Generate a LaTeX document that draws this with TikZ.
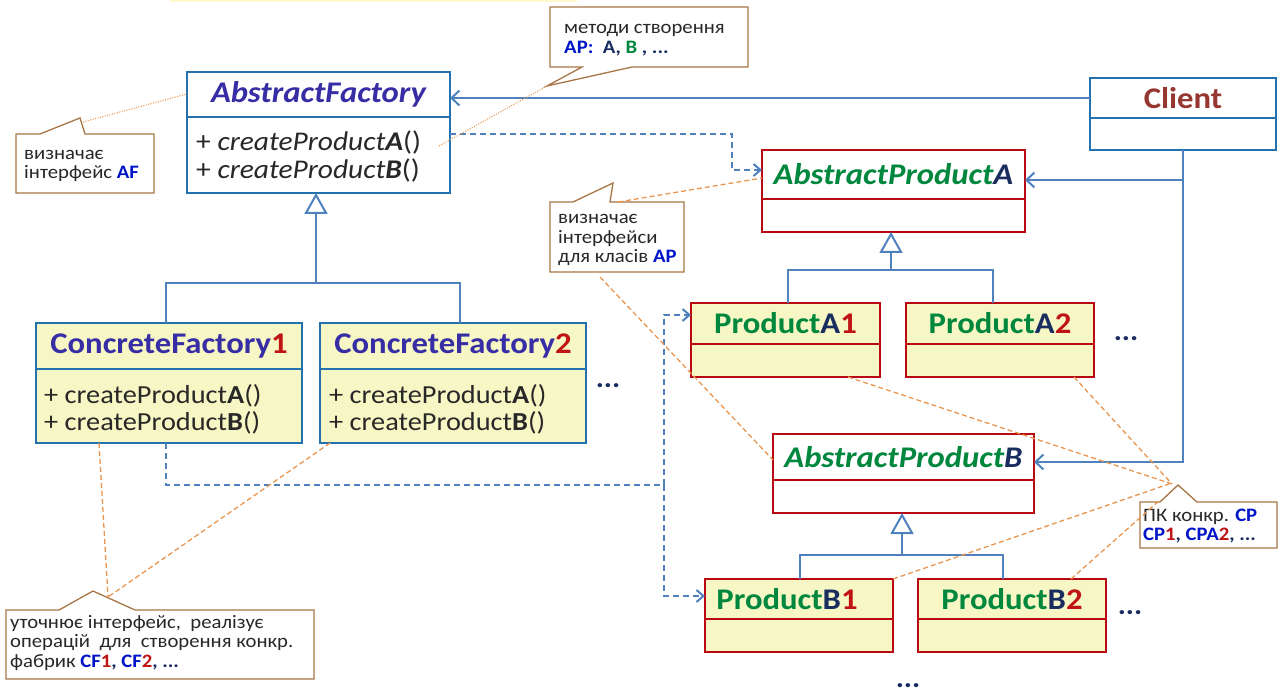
\documentclass[tikz,border=0pt]{standalone}
\usepackage{fontspec}
\setmainfont[FakeStretch=1.09]{Carlito}
\usetikzlibrary{arrows.meta}
\definecolor{cbord}{RGB}{36,113,176}
\definecolor{cline}{RGB}{79,129,189}
\definecolor{cred}{RGB}{185,10,20}
\definecolor{cind}{RGB}{55,45,165}
\definecolor{cgreen}{RGB}{0,135,62}
\definecolor{cnavy}{RGB}{25,45,95}
\definecolor{cdig}{RGB}{192,20,20}
\definecolor{cclient}{RGB}{150,55,50}
\definecolor{cfill}{RGB}{247,247,197}
\definecolor{cbrown}{RGB}{168,118,70}
\definecolor{corange}{RGB}{232,150,80}
\definecolor{cblue}{RGB}{0,20,200}
\definecolor{ctext}{RGB}{40,40,40}
\definecolor{ctop}{RGB}{255,250,205}
\begin{document}
\begin{tikzpicture}[x=1pt,y=-1pt,
  bbox/.style={draw=cbord, line width=2.6pt, fill=white, anchor=north west, inner sep=0pt, outer sep=0pt},
  rbox/.style={bbox, draw=cred},
  yel/.style={fill=cfill},
  ttl/.style={font=\fontsize{30}{34}\selectfont\bfseries},
  meth/.style={anchor=west, align=left, inner sep=0pt, text=ctext},
  assoc/.style={draw=cline, line width=2pt, -{Straight Barb[length=8pt,width=15pt]}},
  dep/.style={draw=cline, line width=2pt, dash pattern=on 6pt off 4pt, -{Straight Barb[length=7pt,width=12pt]}},
  depl/.style={draw=cline, line width=2pt, dash pattern=on 6pt off 4pt},
  gen/.style={draw=cline, line width=2pt},
  inh/.style={draw=cline, line width=2pt, -{Triangle[open, length=21pt, width=23pt, fill=white]}},
  note/.style={draw=cbrown, line width=1.3pt, fill=white},
  ntxt/.style={anchor=west, align=left, inner sep=0pt, text=ctext, font=\fontsize{19}{19.5}\selectfont},
  nline/.style={draw=corange, line width=1.3pt, dash pattern=on 5pt off 3pt},
  ndot/.style={draw=corange, line width=1.1pt, dash pattern=on 1pt off 1.5pt},
  dots/.style={text=cnavy, font=\fontsize{28}{30}\selectfont\bfseries, inner sep=0pt}
]
\useasboundingbox (0,0) rectangle (1278,695);
\fill[ctop] (170,0) rectangle (577,2.5);

% ---------- classes ----------
\node[bbox, minimum width=263pt, minimum height=45pt, ttl, text=cind] (af) at (187,72) {\itshape AbstractFactory};
\node[bbox, minimum width=263pt, minimum height=76pt] (afb) at (187,117) {};
\node[meth, font=\fontsize{27}{28}\selectfont] (afm) at (196,156) {+ \textit{createProduct\textbf{A}}()\\+ \textit{createProduct\textbf{B}}()};

\node[bbox, minimum width=186pt, minimum height=40pt, ttl, text=cclient] (client) at (1090,78) {Client};
\node[bbox, minimum width=186pt, minimum height=32pt] (clientb) at (1090,118) {};

\node[rbox, minimum width=263pt, minimum height=49pt, ttl, text=cgreen] (apa) at (762,150) {\itshape AbstractProduct\textcolor{cnavy}{A}};
\node[rbox, minimum width=263pt, minimum height=33pt] (apab) at (762,199) {};

\node[rbox, yel, minimum width=189pt, minimum height=41pt, ttl, text=cgreen] (pa1) at (691,303) {Product\textcolor{cnavy}{A}\textcolor{cdig}{1}};
\node[rbox, yel, minimum width=189pt, minimum height=33pt] (pa1b) at (691,344) {};
\node[rbox, yel, minimum width=188pt, minimum height=41pt, ttl, text=cgreen] (pa2) at (906,303) {Product\textcolor{cnavy}{A}\textcolor{cdig}{2}};
\node[rbox, yel, minimum width=188pt, minimum height=33pt] (pa2b) at (906,344) {};

\node[rbox, minimum width=261pt, minimum height=46pt, ttl, text=cgreen] (apb) at (773,434) {\itshape AbstractProduct\textcolor{cnavy}{B}};
\node[rbox, minimum width=261pt, minimum height=33pt] (apbb) at (773,480) {};

\node[rbox, yel, minimum width=188pt, minimum height=40pt, ttl, text=cgreen] (pb1) at (705,579) {Product\textcolor{cnavy}{B}\textcolor{cdig}{1}\hspace*{24pt}};
\node[rbox, yel, minimum width=188pt, minimum height=33pt] (pb1b) at (705,619) {};
\node[rbox, yel, minimum width=188pt, minimum height=40pt, ttl, text=cgreen] (pb2) at (918,579) {Product\textcolor{cnavy}{B}\textcolor{cdig}{2}};
\node[rbox, yel, minimum width=188pt, minimum height=33pt] (pb2b) at (918,619) {};

\node[bbox, yel, minimum width=266pt, minimum height=46pt, ttl, text=cind] (cf1) at (36,323) {ConcreteFactory\textcolor{cdig}{1}};
\node[bbox, yel, minimum width=266pt, minimum height=74pt] (cf1b) at (36,369) {};
\node[meth, font=\fontsize{26}{27}\selectfont] (cf1m) at (44,409) {+ createProduct\textbf{A}()\\+ createProduct\textbf{B}()};
\node[bbox, yel, minimum width=266pt, minimum height=46pt, ttl, text=cind] (cf2) at (320,323) {ConcreteFactory\textcolor{cdig}{2}};
\node[bbox, yel, minimum width=266pt, minimum height=74pt] (cf2b) at (320,369) {};
\node[meth, font=\fontsize{26}{27}\selectfont] (cf2m) at (329,409) {+ createProduct\textbf{A}()\\+ createProduct\textbf{B}()};

\node[dots] (d1) at (608,386) {...};
\node[dots] (d2) at (1126,339) {...};
\node[dots] (d3) at (1130,613) {...};
\node[dots] (d4) at (908,686) {...};

% ---------- connectors ----------
\draw[assoc] (client.west) -- (client.west -| af.east);
\draw[dep] (afb.east |- 0,134) -| (732,170) -- (apa.west |- 0,170);
\draw[gen] (clientb.south) -- (clientb.south |- 0,180);
\draw[assoc] (clientb.south |- 0,180) -- (apa.east |- 0,180);
\draw[assoc] (clientb.south |- 0,180) |- (apb.east |- 0,462);

\draw[gen] (cf1.north -| 166,0) |- (460,283) -- (cf2.north -| 460,0);
\draw[inh] (316,283) -- (afb.south -| 316,0);

\draw[gen] (pa1.north -| 788,0) |- (993,270) -- (pa2.north -| 993,0);
\draw[inh] (891,270) -- (apab.south -| 891,0);

\draw[gen] (pb1.north -| 800,0) |- (1003,555) -- (pb2.north -| 1003,0);
\draw[inh] (902,555) -- (apbb.south -| 902,0);

\coordinate (j) at (664,485);
\draw[depl] (cf1b.south -| 166,0) |- (j);
\draw[dep] (j) |- (pa1.west |- 0,315);
\draw[dep] (j) |- (pb1.west |- 0,596);

% ---------- notes ----------
\draw[note] (16,134) -- (40,134) -- (80,118) -- (85,134) -- (154,134) -- (154,193) -- (16,193) -- cycle;
\node[ntxt] (n1) at (24,166) {визначає\\ інтерфейс \textbf{\textcolor{cblue}{AF}}};
\coordinate (t1) at (83,122);
\draw[ndot] (t1) -- (af.west |- 0,94);

\draw[note] (550,7) -- (748,7) -- (748,67) -- (632,67) -- (547,86) -- (582,67) -- (550,67) -- cycle;
\node[ntxt] (n2) at (564,40) {методи створення\\\textbf{\textcolor{cblue}{AP:}\ \ \textcolor{cnavy}{A,} \textcolor{cgreen}{B} \textcolor{cnavy}{, ...}}};
\coordinate (t2) at (547,86);
\draw[ndot] (t2) -- (439,146);

\draw[note] (550,202) -- (573,202) -- (613,183) -- (610,202) -- (684,202) -- (684,272) -- (550,272) -- cycle;
\node[ntxt] (n3) at (558,240) {визначає\\інтерфейси\\для класів \textbf{\textcolor{cblue}{AP}}};
\coordinate (t3) at (618,202);
\coordinate (t3b) at (600,277);
\draw[nline] (t3) -- (apa.west |- 0,178);
\draw[nline] (t3b) -- (apb.west |- 0,460);

\draw[note] (6,610) -- (59,610) -- (93,591) -- (135,610) -- (314,610) -- (314,679) -- (6,679) -- cycle;
\node[ntxt] (n4) at (10,643) {уточнює інтерфейс,\ \ реалізує\\операцій\ \ для\ \ створення конкр.\\фабрик \textbf{\textcolor{cblue}{CF}\textcolor{cdig}{1}\textcolor{cnavy}{,} \textcolor{cblue}{CF}\textcolor{cdig}{2}\textcolor{cnavy}{, ...}}};
\coordinate (t4) at (108,597);
\draw[nline] (cf1b.south -| 99,0) -- (t4);
\draw[nline] (cf2b.south -| 330,0) -- (t4);

\draw[note] (1140,502) -- (1160,502) -- (1178,485) -- (1197,502) -- (1277,502) -- (1277,548) -- (1140,548) -- cycle;
\node[ntxt] (n5) at (1143,526) {ПК конкр. \textbf{\textcolor{cblue}{CP}}\\\textbf{\textcolor{cblue}{CP}\textcolor{cdig}{1}\textcolor{cnavy}{,} \textcolor{cblue}{CPA}\textcolor{cdig}{2}\textcolor{cnavy}{, ...}}};
\coordinate (t5) at (1172,484);
\draw[nline] (pa1b.south -| 848,0) -- (t5);
\draw[nline] (pa2b.south -| 1074,0) -- (t5);
\draw[nline] (pb1.north east) -- (1169,484);
\draw[nline] (pb2.north -| 1071,0) -- (1160,500);
\end{tikzpicture}
\end{document}
